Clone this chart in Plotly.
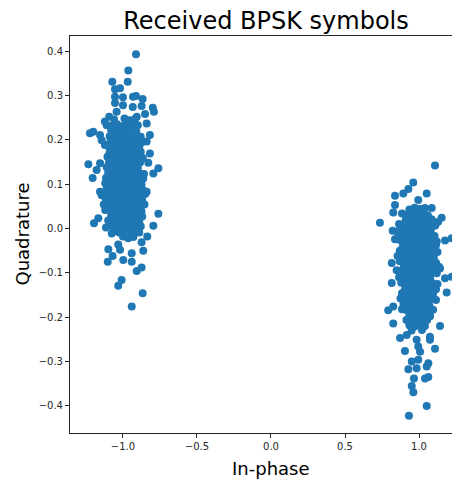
import plotly.graph_objects as go

# ---- Left cluster (symbol -1): outlying points ----
left_out_i = [-0.912, -0.964, -1.072, -0.968, -1.054, -1.020, -1.054, -1.000, -0.932, -0.912,
              -0.867, -1.054, -1.000, -0.934, -0.874, -0.799, -0.791, -1.043, -0.851, -1.093,
              -0.907, -1.122, -1.110, -0.840, -1.223, -1.201, -1.155, -1.144, -0.818, -0.840,
              -1.122, -0.818, -1.234, -1.155, -0.829, -0.761, -1.178, -1.205, -0.795, -0.863,
              -1.155, -0.840, -1.144, -0.761, -1.167, -1.196, -1.115, -0.795, -0.836, -1.076,
              -0.874, -1.032, -1.099, -0.863, -1.020, -0.941, -1.070, -1.103, -0.998, -0.941,
              -0.874, -0.907, -1.009, -1.032, -0.867, -0.941]
left_out_q = [0.393, 0.356, 0.331, 0.331, 0.314, 0.316, 0.297, 0.296, 0.297, 0.299,
              0.292, 0.283, 0.278, 0.274, 0.276, 0.272, 0.263, 0.263, 0.258, 0.252,
              0.252, 0.241, 0.233, 0.237, 0.215, 0.218, 0.211, 0.199, 0.211, 0.196,
              0.188, 0.169, 0.145, 0.147, 0.148, 0.136, 0.132, 0.114, 0.124, 0.113,
              0.083, 0.083, 0.075, 0.033, 0.023, 0.012, 0.002, 0.006, -0.018, -0.011,
              -0.031, -0.036, -0.047, -0.050, -0.048, -0.056, -0.062, -0.075, -0.071, -0.075,
              -0.088, -0.096, -0.116, -0.129, -0.146, -0.176]

# ---- Left cluster: dense core ----
left_core = [
    (-1.06, 0.246), (-0.99, 0.248), (-0.955, 0.244), (-0.92, 0.247),
    (-1.07, 0.232), (-1.04, 0.235), (-1.00, 0.231), (-0.97, 0.234), (-0.935, 0.230), (-0.90, 0.233),
    (-1.08, 0.222), (-1.045, 0.219), (-1.01, 0.223), (-0.98, 0.220), (-0.945, 0.222), (-0.91, 0.218),
    (-1.09, 0.208), (-1.055, 0.211), (-1.02, 0.207), (-0.985, 0.210), (-0.95, 0.206), (-0.915, 0.209), (-0.88, 0.207),
    (-1.085, 0.196), (-1.05, 0.198), (-1.015, 0.195), (-0.98, 0.199), (-0.945, 0.196), (-0.91, 0.197), (-0.875, 0.194),
    (-1.10, 0.186), (-1.065, 0.183), (-1.03, 0.187), (-0.995, 0.184), (-0.96, 0.186), (-0.925, 0.182), (-0.89, 0.185),
    (-1.09, 0.172), (-1.055, 0.175), (-1.02, 0.171), (-0.985, 0.174), (-0.95, 0.172), (-0.915, 0.170), (-0.88, 0.173),
    (-1.105, 0.162), (-1.07, 0.159), (-1.035, 0.163), (-1.00, 0.160), (-0.965, 0.162), (-0.93, 0.158), (-0.895, 0.161), (-0.865, 0.159),
    (-1.095, 0.148), (-1.06, 0.151), (-1.025, 0.147), (-0.99, 0.150), (-0.955, 0.148), (-0.92, 0.146), (-0.885, 0.149),
    (-1.11, 0.138), (-1.075, 0.135), (-1.04, 0.139), (-1.005, 0.136), (-0.97, 0.138), (-0.935, 0.134), (-0.90, 0.137),
    (-1.10, 0.126), (-1.065, 0.123), (-1.03, 0.127), (-0.995, 0.124), (-0.96, 0.126), (-0.925, 0.122), (-0.89, 0.125), (-0.858, 0.123),
    (-1.115, 0.114), (-1.08, 0.111), (-1.045, 0.115), (-1.01, 0.112), (-0.975, 0.114), (-0.94, 0.110), (-0.905, 0.113), (-0.87, 0.111),
    (-1.12, 0.102), (-1.085, 0.099), (-1.05, 0.103), (-1.015, 0.100), (-0.98, 0.102), (-0.945, 0.098), (-0.91, 0.101), (-0.875, 0.099),
    (-1.11, 0.090), (-1.075, 0.087), (-1.04, 0.091), (-1.005, 0.088), (-0.97, 0.090), (-0.935, 0.086), (-0.90, 0.089), (-0.865, 0.087),
    (-1.125, 0.078), (-1.09, 0.075), (-1.055, 0.079), (-1.02, 0.076), (-0.985, 0.078), (-0.95, 0.074), (-0.915, 0.077), (-0.88, 0.075), (-0.85, 0.078),
    (-1.115, 0.066), (-1.08, 0.063), (-1.045, 0.067), (-1.01, 0.064), (-0.975, 0.066), (-0.94, 0.062), (-0.905, 0.065), (-0.87, 0.063),
    (-1.13, 0.054), (-1.095, 0.051), (-1.06, 0.055), (-1.025, 0.052), (-0.99, 0.054), (-0.955, 0.050), (-0.92, 0.053), (-0.885, 0.051), (-0.855, 0.054),
    (-1.12, 0.042), (-1.085, 0.039), (-1.05, 0.043), (-1.015, 0.040), (-0.98, 0.042), (-0.945, 0.038), (-0.91, 0.041), (-0.875, 0.039),
    (-1.08, 0.027), (-1.045, 0.031), (-1.01, 0.028), (-0.975, 0.030), (-0.94, 0.026), (-0.905, 0.029), (-0.87, 0.027),
    (-1.10, 0.018), (-1.065, 0.015), (-1.03, 0.019), (-0.995, 0.016), (-0.96, 0.018), (-0.925, 0.014), (-0.89, 0.017),
    (-1.09, 0.006), (-1.055, 0.003), (-1.02, 0.007), (-0.985, 0.004), (-0.95, 0.006), (-0.915, 0.002), (-0.88, 0.005),
    (-1.06, -0.006), (-1.025, -0.009), (-0.99, -0.005), (-0.955, -0.008), (-0.92, -0.006), (-0.89, -0.009),
    (-1.00, -0.018), (-0.965, -0.022), (-0.93, -0.019),
]

# ---- Right cluster (symbol +1): outlying points ----
right_out_i = [1.108, 0.961, 0.928, 0.894, 0.838, 1.052, 0.995, 0.838, 1.086, 0.736,
               0.826, 1.153, 1.130, 0.822, 0.838, 1.176, 1.221, 1.115, 0.816, 0.849,
               1.142, 1.221, 1.176, 0.816, 1.187, 0.792, 0.826, 1.142, 0.826, 0.872,
               0.917, 1.074, 1.074, 0.984, 0.995, 1.108, 1.007, 0.905, 0.995, 0.951,
               1.063, 1.052, 0.928, 0.984, 0.966, 1.041, 1.063, 0.951, 0.962, 1.052,
               0.932]
right_out_q = [0.142, 0.104, 0.089, 0.079, 0.074, 0.079, 0.064, 0.053, 0.046, 0.013,
               0.036, 0.024, 0.015, -0.005, -0.024, -0.027, -0.022, -0.037, -0.078, -0.094,
               -0.090, -0.109, -0.112, -0.123, -0.144, -0.184, -0.176, -0.220, -0.214, -0.247,
               -0.240, -0.244, -0.251, -0.251, -0.266, -0.271, -0.278, -0.276, -0.296, -0.300,
               -0.304, -0.311, -0.317, -0.315, -0.338, -0.338, -0.335, -0.355, -0.369, -0.400,
               -0.422]

# ---- Right cluster: dense core ----
right_core = [
    (0.935, 0.043), (0.97, 0.047), (1.005, 0.044), (1.04, 0.046),
    (0.885, 0.034), (0.92, 0.031), (0.955, 0.035), (0.99, 0.032), (1.025, 0.034), (1.06, 0.030),
    (0.91, 0.019), (0.945, 0.023), (0.98, 0.020), (1.015, 0.022), (1.05, 0.018), (1.085, 0.021),
    (0.865, 0.010), (0.90, 0.007), (0.935, 0.011), (0.97, 0.008), (1.005, 0.010), (1.04, 0.006), (1.075, 0.009), (1.11, 0.007),
    (0.87, -0.002), (0.905, -0.005), (0.94, -0.001), (0.975, -0.004), (1.01, -0.002), (1.045, -0.006), (1.08, -0.003),
    (0.86, -0.014), (0.895, -0.017), (0.93, -0.013), (0.965, -0.016), (1.00, -0.014), (1.035, -0.018), (1.07, -0.015), (1.105, -0.017),
    (0.87, -0.026), (0.905, -0.029), (0.94, -0.025), (0.975, -0.028), (1.01, -0.026), (1.045, -0.030), (1.08, -0.027), (1.12, -0.029),
    (0.89, -0.041), (0.925, -0.037), (0.96, -0.040), (0.995, -0.038), (1.03, -0.042), (1.065, -0.039), (1.10, -0.041),
    (0.87, -0.050), (0.905, -0.053), (0.94, -0.049), (0.975, -0.052), (1.01, -0.050), (1.045, -0.054), (1.08, -0.051), (1.125, -0.053),
    (0.855, -0.062), (0.89, -0.065), (0.925, -0.061), (0.96, -0.064), (0.995, -0.062), (1.03, -0.066), (1.065, -0.063), (1.10, -0.065),
    (0.87, -0.074), (0.905, -0.077), (0.94, -0.073), (0.975, -0.076), (1.01, -0.074), (1.045, -0.078), (1.08, -0.075), (1.115, -0.077),
    (0.895, -0.089), (0.93, -0.085), (0.965, -0.088), (1.00, -0.086), (1.035, -0.090), (1.07, -0.087), (1.105, -0.089), (1.135, -0.086),
    (0.875, -0.098), (0.91, -0.101), (0.945, -0.097), (0.98, -0.100), (1.015, -0.098), (1.05, -0.102), (1.085, -0.099), (1.12, -0.101),
    (0.865, -0.110), (0.90, -0.113), (0.935, -0.109), (0.97, -0.112), (1.005, -0.110), (1.04, -0.114), (1.075, -0.111),
    (0.88, -0.122), (0.915, -0.125), (0.95, -0.121), (0.985, -0.124), (1.02, -0.122), (1.055, -0.126), (1.09, -0.123), (1.125, -0.125),
    (0.905, -0.137), (0.94, -0.133), (0.975, -0.136), (1.01, -0.134), (1.045, -0.138), (1.08, -0.135), (1.115, -0.137),
    (0.885, -0.146), (0.92, -0.149), (0.955, -0.145), (0.99, -0.148), (1.025, -0.146), (1.06, -0.150), (1.095, -0.147),
    (0.875, -0.158), (0.91, -0.161), (0.945, -0.157), (0.98, -0.160), (1.015, -0.158), (1.05, -0.162), (1.085, -0.159), (1.115, -0.161),
    (0.895, -0.170), (0.93, -0.173), (0.965, -0.169), (1.00, -0.172), (1.035, -0.170), (1.07, -0.174),
    (0.885, -0.182), (0.92, -0.185), (0.955, -0.181), (0.99, -0.184), (1.025, -0.182), (1.06, -0.186), (1.095, -0.183),
    (0.935, -0.197), (0.97, -0.193), (1.005, -0.196), (1.04, -0.194), (1.075, -0.198),
    (0.915, -0.206), (0.95, -0.209), (0.985, -0.205), (1.02, -0.208), (1.055, -0.206),
    (0.935, -0.218), (0.97, -0.221), (1.005, -0.217), (1.04, -0.220),
    (0.95, -0.230), (1.02, -0.229),
]

x_ticks = [-1.0, -0.5, 0.0, 0.5, 1.0]
y_ticks = [-0.4, -0.3, -0.2, -0.1, 0.0, 0.1, 0.2, 0.3, 0.4]

all_i = left_out_i + [p[0] for p in left_core] + right_out_i + [p[0] for p in right_core]
all_q = left_out_q + [p[1] for p in left_core] + right_out_q + [p[1] for p in right_core]

FONT = "DejaVu Sans"
# The page adds an 8 px body margin, so the figure is 8 px smaller and laid out from (8, 8).
W, H, OFF = 452, 473, 8
fig = go.Figure(go.Scatter(
    x=all_i, y=all_q, mode="markers",
    marker=dict(color="#1f77b4", size=8, line=dict(width=0)),
    hoverinfo="skip",
))

axis_common = dict(
    showgrid=False, zeroline=False, showline=True, linecolor="#262626", linewidth=1,
    ticks="outside", ticklen=4, tickwidth=1, tickcolor="#262626",
    tickfont=dict(family=FONT, size=10, color="#262626"), tickformat=".1f",
)
plot_l, plot_t, plot_b = 70 - OFF, 36 - OFF, 433 - OFF
plot_w, plot_h = W - plot_l, plot_b - plot_t
fig.update_layout(
    width=W, height=H,
    margin=dict(l=plot_l, r=0, t=plot_t, b=H - plot_b),
    paper_bgcolor="white", plot_bgcolor="white",
    showlegend=False,
    title=dict(text="Received BPSK symbols", x=(266 - OFF) / W, xanchor="center",
               yref="container", y=1 - (21 - OFF) / H, yanchor="middle",
               font=dict(family=FONT, size=24, color="black")),
    xaxis=dict(range=[-1.358, 1.277], tickvals=x_ticks, mirror=True, **axis_common),
    yaxis=dict(range=[-0.461, 0.434], tickvals=y_ticks, **axis_common),
    annotations=[
        dict(text="In-phase", xref="paper", yref="paper", x=(271 - 70) / plot_w, y=-35 / plot_h,
             xanchor="center", yanchor="middle", showarrow=False,
             font=dict(family=FONT, size=18, color="black")),
        dict(text="Quadrature", xref="paper", yref="paper", x=-48 / plot_w, y=0.5,
             xanchor="center", yanchor="middle", showarrow=False, textangle=-90,
             font=dict(family=FONT, size=18, color="black")),
    ],
)
fig.write_html("out.html")
